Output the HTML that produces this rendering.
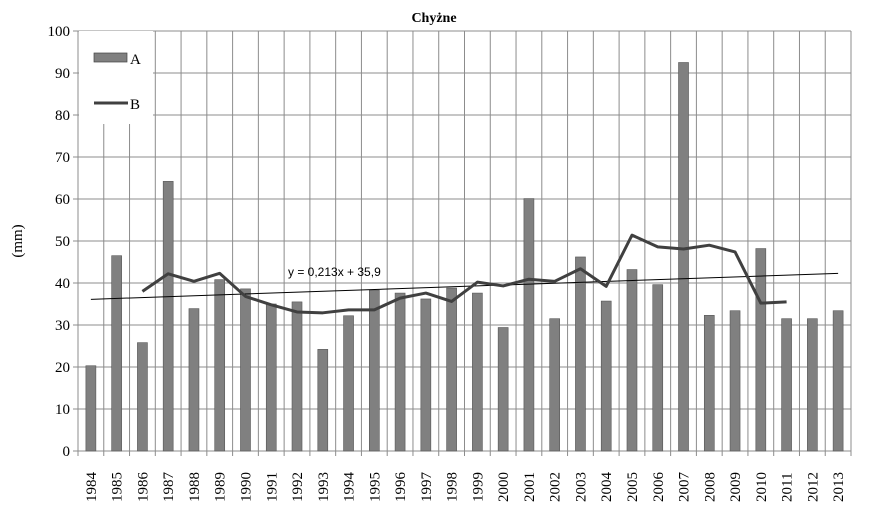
<!DOCTYPE html>
<html><head><meta charset="utf-8"><style>
body{margin:0;background:#fff;}
svg{display:block;font-family:"Liberation Serif",serif;}
</style></head><body>
<svg id="chart" width="893" height="520">
<text x="434" y="22" text-anchor="middle" font-weight="bold" font-size="14">Chyżne</text>
<text transform="translate(22,241) rotate(-90)" text-anchor="middle" font-size="15">(mm)</text>
<g id="grid"></g><g id="bars"></g><g id="lines"></g><g id="labels"></g>
<rect x="79" y="31" width="74" height="93" fill="#fff"/>
<rect x="94" y="53" width="33" height="9" fill="#808080" stroke="#444" stroke-width="0.7"/>
<text x="130" y="64" font-size="15">A</text>
<line x1="94" y1="103" x2="128" y2="103" stroke="#404040" stroke-width="3"/>
<text x="130" y="109" font-size="15">B</text>
<text x="288" y="276" font-family="Liberation Sans, sans-serif" font-size="12">y = 0,213x + 35,9</text>
</svg>
<script>
const years=[1984,1985,1986,1987,1988,1989,1990,1991,1992,1993,1994,1995,1996,1997,1998,1999,2000,2001,2002,2003,2004,2005,2006,2007,2008,2009,2010,2011,2012,2013];
const seriesA=[20.3,46.5,25.8,64.2,33.9,40.8,38.6,35,35.5,24.2,32.2,38.3,37.6,36.2,38.8,37.6,29.4,60.1,31.5,46.2,35.7,43.2,39.6,92.5,32.3,33.4,48.2,31.5,31.5,33.4];
const seriesB=[null,null,38,42.2,40.4,42.3,36.8,34.8,33.1,32.9,33.6,33.6,36.4,37.6,35.6,40.2,39.3,40.9,40.4,43.4,39.2,51.4,48.6,48.1,49,47.4,35.2,35.5,null,null];
const yTicks=[0,10,20,30,40,50,60,70,80,90,100];
const trendSlope=0.213, trendIntercept=35.9;
const NS="http://www.w3.org/2000/svg";
const L=78,R=851,T=31,B=451,n=years.length,cw=(R-L)/n;
const x=i=>L+(i+0.5)*cw, y=v=>B-(v/100)*(B-T);
function mk(tag,attrs,parent){const e=document.createElementNS(NS,tag);for(const k in attrs)e.setAttribute(k,attrs[k]);document.getElementById(parent).appendChild(e);return e;}
yTicks.forEach(t=>{
 const g=mk('line',{x1:L-5,x2:R,y1:y(t),y2:y(t),stroke:'#8c8c8c','stroke-width':1},'grid');
 
 
 const tx=mk('text',{x:L-8,y:y(t)+5,'text-anchor':'end','font-size':15},'labels');tx.textContent=t;
 
 
});
for(let i=0;i<=n;i++){
 const g=mk('line',{x1:L+i*cw,x2:L+i*cw,y1:T,y2:B+5,stroke:'#8c8c8c','stroke-width':1},'grid');
 
 
}
years.forEach((yr,i)=>{
 const b=mk('rect',{x:x(i)-5,y:y(seriesA[i]),width:10,height:B-y(seriesA[i]),fill:'#808080',stroke:'#555','stroke-width':0.6},'bars');
 
 
 const tx=mk('text',{transform:`translate(${x(i)+5},${502}) rotate(-90)`,'font-size':15},'labels');tx.textContent=yr;
 
 
});
const tl=mk('line',{x1:x(0),y1:y(trendIntercept+trendSlope*1),x2:x(n-1),y2:y(trendIntercept+trendSlope*n),stroke:'#000','stroke-width':1},'lines');


let d='';seriesB.forEach((v,i)=>{if(v!=null)d+=(d?'L':'M')+x(i)+','+y(v);});
const pl=mk('path',{d:d,fill:'none',stroke:'#404040','stroke-width':3,'stroke-linejoin':'round'},'lines');


</script>
</body></html>
